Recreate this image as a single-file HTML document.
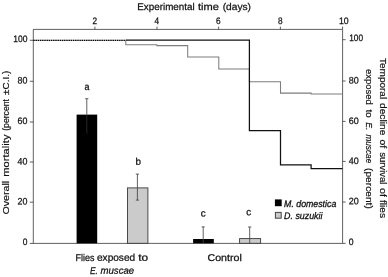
<!DOCTYPE html>
<html><head><meta charset="utf-8">
<style>
html,body{margin:0;padding:0;background:#fff;}
body{width:388px;height:277px;overflow:hidden;}
svg{display:block;font-family:"Liberation Sans",sans-serif;will-change:transform;}
text{fill:#111;stroke:#111;stroke-width:0.25px;}
.t text{stroke-width:0.25px;}
.r text{stroke-width:0.18px;}
</style></head><body>
<svg width="388" height="277" viewBox="0 0 388 277">
<rect width="388" height="277" fill="#fff"/>
<!-- frame -->
<g stroke="#383838" stroke-width="0.8" fill="none">
<path d="M33.3 29.4H342.6V243.4H29.8"/>
<path d="M33.3 29.3V243.3"/>
<!-- top ticks -->
<path d="M94.9 26.6V29.3M157 26.6V29.3M218.6 26.6V29.3M280.4 26.6V29.3M342.6 26.6V29.3"/>
<!-- left ticks -->
<path d="M29.8 40.3H33.3M29.8 81.3H33.3M29.8 122H33.3M29.8 162H33.3M29.8 202.2H33.3"/>
<!-- right ticks -->
<path d="M342.6 39.7H345.6M342.6 81H345.6M342.6 121.4H345.6M342.6 161.4H345.6M342.6 202H345.6M342.6 243.4H345.6"/>
</g>
<!-- dashed 100 line -->
<path d="M33.3 40.3H125.8" stroke="#000" stroke-opacity="0.3" stroke-width="1.1" fill="none"/>
<path d="M33.3 40.3H125.8" stroke="#000" stroke-width="1.2" stroke-dasharray="1.4 0.8" fill="none"/>
<!-- gray survival -->
<path d="M125.8 40.2V44.7H156.8V45.6H187.7V56.9H218.8V69H249.4V81.7H280.5V93.1H311.1V94H342.5" stroke="#7d7d7d" stroke-width="1.05" fill="none"/>
<!-- black survival -->
<path d="M125.8 40H249.4V130.6H280.5V164.9H311.1V168.7H342.5" stroke="#111" stroke-width="1.25" fill="none"/>
<!-- bars -->
<rect x="76.6" y="114.6" width="20.6" height="128.7" fill="#000"/>
<rect x="127.5" y="187.9" width="20.4" height="55.4" fill="#cbcbcb" stroke="#3a3a3a" stroke-width="0.9"/>
<rect x="193.1" y="239" width="20.7" height="4.3" fill="#000"/>
<rect x="239.6" y="238.6" width="21" height="4.7" fill="#cbcbcb" stroke="#3a3a3a" stroke-width="0.9"/>
<!-- error bars -->
<g stroke="#444" stroke-width="0.85" fill="none">
<path d="M86.8 98.7V114.2M85.2 98.7H88.4"/>
<path d="M86.8 114.6V133.5" stroke="#2c2c2c"/>
<path d="M137.4 174.1V200.1M135.8 174.1H139M135.8 200.1H139"/>
<path d="M203.2 226.9V243M201.6 226.9H204.8"/>
<path d="M249.7 227V243M248.1 227H251.3"/>
</g>
<!-- tick labels -->
<g transform="rotate(0.03)">
<g font-size="9.4">
<g text-anchor="middle">
<text x="94.8" y="23.9" textLength="4.6" lengthAdjust="spacingAndGlyphs">2</text>
<text x="156.8" y="23.9" textLength="4.6" lengthAdjust="spacingAndGlyphs">4</text>
<text x="218.4" y="23.9" textLength="4.6" lengthAdjust="spacingAndGlyphs">6</text>
<text x="280.2" y="23.9" textLength="4.6" lengthAdjust="spacingAndGlyphs">8</text>
<text x="343.8" y="23.9" textLength="9.7" lengthAdjust="spacingAndGlyphs">10</text>
</g>
<g text-anchor="end">
<text x="27.5" y="42.0" textLength="14.2" lengthAdjust="spacingAndGlyphs">100</text>
<text x="27.5" y="83.5" textLength="9.9" lengthAdjust="spacingAndGlyphs">80</text>
<text x="27.5" y="124.1" textLength="9.9" lengthAdjust="spacingAndGlyphs">60</text>
<text x="27.5" y="164.4" textLength="9.9" lengthAdjust="spacingAndGlyphs">40</text>
<text x="27.5" y="204.5" textLength="9.9" lengthAdjust="spacingAndGlyphs">20</text>
<text x="27.5" y="244.8" textLength="4.7" lengthAdjust="spacingAndGlyphs">0</text>
</g>
<g text-anchor="start">
<text x="349.3" y="41.1" textLength="13.8" lengthAdjust="spacingAndGlyphs">100</text>
<text x="348.8" y="83.4" textLength="10" lengthAdjust="spacingAndGlyphs">80</text>
<text x="348.8" y="123.9" textLength="10" lengthAdjust="spacingAndGlyphs">60</text>
<text x="348.8" y="163.8" textLength="10" lengthAdjust="spacingAndGlyphs">40</text>
<text x="348.8" y="204.2" textLength="10" lengthAdjust="spacingAndGlyphs">20</text>
<text x="348.8" y="244.7" textLength="4.8" lengthAdjust="spacingAndGlyphs">0</text>
</g>
</g>
<!-- letters -->
<g font-size="9.8" text-anchor="middle">
<text x="87.1" y="90" textLength="5" lengthAdjust="spacingAndGlyphs">a</text>
<text x="138.4" y="164.8">b</text>
<text x="203.3" y="216.5">c</text>
<text x="248.9" y="215.1">c</text>
</g>
<!-- titles -->
<g class="t" font-size="9.8">
<text x="137.3" y="9.9" textLength="57.4" lengthAdjust="spacingAndGlyphs">Experimental</text>
<text x="197.9" y="9.9" textLength="20.9" lengthAdjust="spacingAndGlyphs">time</text>
<text x="222.7" y="9.9" textLength="28.3" lengthAdjust="spacingAndGlyphs">(days)</text>
<text x="75.7" y="260.8" textLength="18.9" lengthAdjust="spacingAndGlyphs">Flies</text>
<text x="97.1" y="260.8" textLength="38.2" lengthAdjust="spacingAndGlyphs">exposed</text>
<text x="138.4" y="260.8" textLength="9.9" lengthAdjust="spacingAndGlyphs">to</text>
<text x="90.2" y="273.8" font-style="italic" textLength="7.9" lengthAdjust="spacingAndGlyphs">E.</text>
<text x="100.6" y="273.8" font-style="italic" textLength="33.7" lengthAdjust="spacingAndGlyphs">muscae</text>
<text x="207.6" y="260.8" textLength="34.3" lengthAdjust="spacingAndGlyphs">Control</text>
</g>
</g>
<!-- y labels -->
<g transform="translate(9.2 0.6) rotate(-90)" font-size="9.8" class="r">
<text x="-213.9" textLength="33.7" lengthAdjust="spacingAndGlyphs">Overall</text>
<text x="-176.2" textLength="42.3" lengthAdjust="spacingAndGlyphs">mortality</text>
<text x="-130.2" textLength="31.8" lengthAdjust="spacingAndGlyphs">(percent</text>
<text x="-94.3" textLength="24.1" lengthAdjust="spacingAndGlyphs">±C.I.)</text>
</g>
<g transform="translate(379.5 0) rotate(90)" font-size="9.8" class="r">
<text x="58.0" textLength="41.1" lengthAdjust="spacingAndGlyphs">Temporal</text>
<text x="103.0" textLength="32.4" lengthAdjust="spacingAndGlyphs">decline</text>
<text x="139.5" textLength="8.8" lengthAdjust="spacingAndGlyphs">of</text>
<text x="152.2" textLength="32.3" lengthAdjust="spacingAndGlyphs">survival</text>
<text x="188.0" textLength="8.9" lengthAdjust="spacingAndGlyphs">of</text>
<text x="199.9" textLength="18.2" lengthAdjust="spacingAndGlyphs">flies</text>
</g>
<g transform="translate(366.1 0) rotate(90)" font-size="9.8" class="r">
<text x="69.1" textLength="35.7" lengthAdjust="spacingAndGlyphs">exposed</text>
<text x="109.5" textLength="8.3" lengthAdjust="spacingAndGlyphs">to</text>
<text x="122.3" font-style="italic" textLength="8.1" lengthAdjust="spacingAndGlyphs">E.</text>
<text x="134.4" font-style="italic" textLength="28.9" lengthAdjust="spacingAndGlyphs">muscae</text>
<text x="168" textLength="40.8" lengthAdjust="spacingAndGlyphs">(percent)</text>
</g>
<!-- legend -->
<rect x="274.9" y="199.4" width="6.8" height="6.8" fill="#000"/>
<rect x="275.4" y="212.4" width="5.8" height="5.8" fill="#c9c9c9" stroke="#444" stroke-width="1"/>
<g transform="rotate(0.03)">
<text x="284.2" y="206.4" font-size="9.6" font-style="italic" style="stroke-width:0.3px" textLength="52.2" lengthAdjust="spacingAndGlyphs">M. domestica</text>
<text x="284.2" y="218.8" font-size="9.6" font-style="italic" style="stroke-width:0.3px" textLength="38.4" lengthAdjust="spacingAndGlyphs">D. suzukii</text>
</g>
</svg>
</body></html>
